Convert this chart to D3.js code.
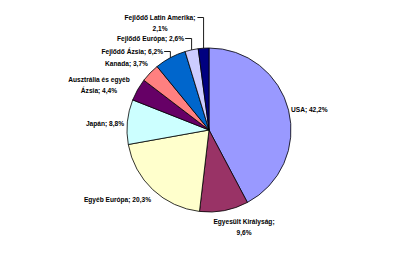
<!DOCTYPE html>
<html>
<head>
<meta charset="utf-8">
<script src="https://cdn.jsdelivr.net/npm/d3@7"></script>
<style>
  body { margin: 0; background: #fff; }
  text { font-family: "Liberation Sans", Arial, sans-serif; font-size: 6.6px; font-weight: bold; fill: #000; }
</style>
</head>
<body>
<div id="chart"></div>
<script>
// slices, clockwise from 12 o'clock
const categories = [
  "USA", "Egyesült Királyság", "Egyéb Európa", "Japán",
  "Ausztrália és egyéb Ázsia", "Kanada", "Fejlődő Ázsia",
  "Fejlődő Európa", "Fejlődő Latin Amerika"
];
const values = [42.2, 9.6, 20.3, 8.8, 4.4, 3.7, 6.2, 2.6, 2.1];
const labelLines = [
  ["USA; 42,2%"],
  ["Egyesült Királyság;", "9,6%"],
  ["Egyéb Európa; 20,3%"],
  ["Japán; 8,8%"],
  ["Ausztrália és egyéb", "Ázsia; 4,4%"],
  ["Kanada; 3,7%"],
  ["Fejlődő Ázsia; 6,2%"],
  ["Fejlődő Európa; 2,6%"],
  ["Fejlődő Latin Amerika;", "2,1%"]
];
const colors = ["#9999FF", "#993366", "#FFFFCC", "#CCFFFF", "#660066",
  "#FF8080", "#0066CC", "#CCCCFF", "#000080"];

// label placement (excel style), leader = draw elbow line to slice
const labelLayout = [
  { x: 291, y: 112, anchor: "start" },
  { x: 244, y: 224, anchor: "middle" },
  { x: 151, y: 202, anchor: "end" },
  { x: 124, y: 126, anchor: "end" },
  { x: 99, y: 82, anchor: "middle" },
  { x: 148, y: 66, anchor: "end" },
  { x: 163, y: 54, anchor: "end", leader: true },
  { x: 184, y: 41, anchor: "end", leader: true },
  { x: 160, y: 20, anchor: "middle", leader: true }
];

const width = 418, height = 263;
const cx = 209, cy = 130, r = 82;

const svg = d3.select("#chart").append("svg")
  .attr("width", width)
  .attr("height", height);

const pie = d3.pie().sort(null).value(d => d);
const arcs = pie(values);
const arc = d3.arc().innerRadius(0).outerRadius(r);

const g = svg.append("g").attr("transform", `translate(${cx},${cy})`);

g.selectAll("path.slice")
  .data(arcs)
  .join("path")
  .attr("class", "slice")
  .attr("d", arc)
  .attr("fill", (d, i) => colors[i])
  .attr("stroke", "#000")
  .attr("stroke-width", 0.8);

const lh = 11;
const labels = svg.selectAll("g.lbl")
  .data(arcs)
  .join("g")
  .attr("class", "lbl");

labels.each(function (d, i) {
  const L = labelLayout[i];
  const t = d3.select(this).append("text")
    .attr("x", L.x)
    .attr("y", L.y)
    .attr("text-anchor", L.anchor);
  labelLines[i].forEach((line, k) => {
    t.append("tspan")
      .attr("x", L.x)
      .attr("dy", k === 0 ? 0 : lh)
      .text(line);
  });

  if (L.leader) {
    const bb = t.node().getBBox();
    const mid = (d.startAngle + d.endAngle) / 2;
    const ex = cx + r * Math.sin(mid);
    const ey = cy - r * Math.cos(mid);
    let sx, sy;
    if (labelLines[i].length > 1) {
      sx = bb.x + bb.width + 2;
      sy = L.y - 2.5;
    } else {
      sx = bb.x + bb.width + 1;
      sy = L.y - 2.5;
    }
    d3.select(this).append("path")
      .attr("d", `M${sx},${sy}H${ex}V${ey}`)
      .attr("fill", "none")
      .attr("stroke", "#000")
      .attr("stroke-width", 0.9);
  }
});
</script>
</body>
</html>
